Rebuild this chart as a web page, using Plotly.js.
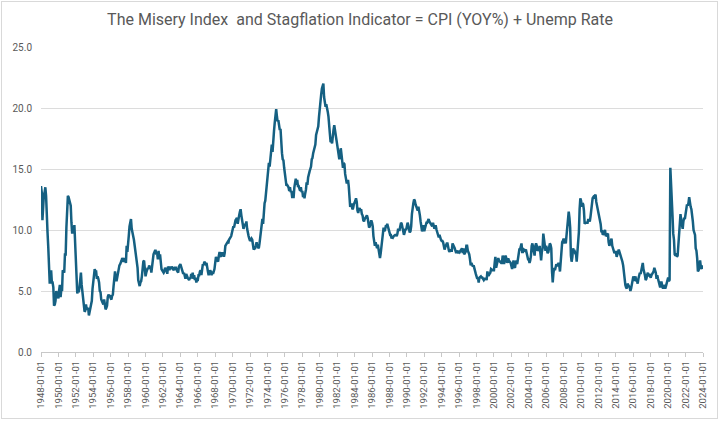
<!DOCTYPE html>
<html>
<head>
<meta charset="utf-8">
<script src="https://cdn.plot.ly/plotly-3.0.1.min.js"></script>
<style>
  html, body { margin: 0; padding: 0; background: #fff; }
  #chart { width: 720px; height: 422px; }
  #frame { position: absolute; left: 1px; top: 1px; width: 715px; height: 416px; border: 1px solid #D9D9D9; pointer-events: none; }
</style>
</head>
<body>
<div id="chart"></div>
<div id="frame"></div>
<script>
// Misery index = CPI YoY % + unemployment rate, monthly, starting 1948-01
const startYear = 1948;
const v1940s = [
  13.6, 13.1, 10.8, 12.2, 12.9, 13.1, 13.5, 12.8, 10.3, 9.8, 8.6, 7.0,
  5.6, 6.0, 6.7, 5.7, 5.7, 5.3, 3.8, 3.9, 4.2, 5.0, 4.7, 4.5
];
const v1950s = [
  4.4, 5.1, 5.5, 4.5, 5.1, 5.0, 6.7, 6.6, 6.5, 8.0, 8.0, 10.2,
  11.8, 12.8, 12.7, 12.5, 12.3, 12.0, 10.6, 9.7, 10.2, 10.0, 10.4, 9.1,
  7.5, 5.4, 4.8, 5.2, 4.9, 5.3, 6.2, 6.5, 5.5, 4.9, 4.1, 3.6,
  3.3, 3.4, 3.9, 3.5, 3.6, 3.6, 3.0, 3.4, 3.6, 4.2, 4.2, 5.2,
  6.0, 6.7, 6.8, 6.6, 6.6, 6.0, 6.2, 6.0, 5.7, 5.0, 4.9, 4.3,
  4.2, 4.0, 3.9, 4.3, 3.6, 3.5, 3.6, 3.8, 4.5, 4.7, 4.6, 4.6,
  4.4, 4.3, 4.6, 4.7, 5.4, 6.1, 6.6, 6.0, 5.8, 6.1, 6.5, 7.1,
  7.1, 7.2, 7.3, 7.5, 7.7, 7.5, 7.4, 7.7, 7.6, 7.3, 8.7, 8.2,
  9.4, 9.6, 10.3, 10.9, 10.9, 10.1, 9.9, 9.5, 9.2, 8.8, 8.3, 8.0,
  7.4, 6.9, 5.9, 5.5, 5.4, 5.7, 5.8, 6.2, 6.9, 7.4, 7.5, 7.0
];
const v1960s = [
  6.2, 6.5, 6.8, 6.9, 6.8, 7.1, 6.9, 7.0, 6.5, 7.5, 7.5, 8.0,
  8.3, 8.3, 8.3, 8.0, 8.1, 7.6, 8.3, 7.6, 8.0, 7.2, 6.8, 6.7,
  6.5, 6.5, 6.6, 6.9, 6.8, 6.8, 6.4, 7.0, 6.9, 6.7, 7.0, 6.8,
  7.0, 6.9, 6.7, 6.7, 6.9, 6.9, 6.9, 6.7, 6.5, 6.5, 7.0, 7.1,
  7.2, 7.0, 6.7, 6.6, 6.4, 6.5, 6.2, 6.0, 6.4, 6.1, 6.1, 6.0,
  5.9, 6.1, 6.0, 6.4, 6.2, 6.5, 6.0, 6.3, 5.9, 6.1, 5.7, 5.9,
  5.9, 6.3, 6.3, 6.6, 6.7, 6.3, 6.6, 7.2, 7.1, 7.4, 7.3, 7.2,
  7.3, 6.6, 6.6, 6.3, 6.6, 6.7, 6.6, 6.3, 6.6, 6.4, 6.6, 6.8,
  7.3, 7.8, 7.6, 7.4, 7.4, 7.9, 8.2, 7.9, 7.8, 8.1, 8.1, 8.1,
  7.8, 8.1, 8.7, 8.9, 8.9, 9.0, 8.9, 9.2, 9.4, 9.4, 9.5, 9.7
];
const v1970s = [
  10.1, 10.3, 10.2, 10.7, 10.8, 10.9, 11.0, 10.5, 11.1, 11.2, 11.5, 11.7,
  11.2, 10.9, 10.7, 10.1, 10.3, 10.5, 10.4, 10.7, 10.1, 9.6, 9.5, 9.3,
  9.1, 9.2, 9.3, 9.2, 8.9, 8.4, 8.5, 8.5, 8.7, 9.0, 8.7, 8.6,
  8.5, 8.9, 9.5, 10.1, 10.4, 10.9, 10.5, 12.2, 12.2, 12.4, 13.1, 13.6,
  14.5, 15.2, 15.5, 15.2, 15.8, 16.3, 17.0, 16.4, 17.8, 18.1, 18.8, 19.5,
  19.9, 19.3, 18.9, 19.0, 18.5, 18.2, 18.3, 17.0, 16.3, 15.8, 15.7, 15.1,
  14.6, 14.0, 13.7, 13.7, 13.6, 13.5, 13.2, 13.5, 13.1, 13.2, 12.7, 12.7,
  12.7, 13.5, 13.8, 14.2, 13.7, 14.1, 13.6, 13.6, 13.4, 13.2, 13.5, 13.1,
  13.2, 12.7, 12.9, 12.6, 13.0, 13.3, 13.9, 13.7, 14.3, 14.7, 14.8, 15.0,
  15.2, 15.8, 15.9, 16.3, 16.5, 16.6, 17.0, 17.8, 18.1, 18.1, 18.5, 19.3
];
const v1980s = [
  20.2, 20.5, 21.1, 21.6, 21.9, 22.0, 20.9, 20.6, 20.1, 20.3, 20.1, 19.7,
  19.3, 18.8, 17.9, 17.2, 17.3, 17.1, 18.0, 18.2, 18.6, 18.0, 17.9, 17.4,
  17.0, 16.5, 15.8, 15.8, 16.1, 16.7, 16.2, 15.7, 15.1, 15.5, 15.4, 14.6,
  14.1, 13.9, 13.9, 14.1, 13.6, 12.7, 11.9, 12.1, 12.1, 11.7, 11.8, 12.1,
  12.2, 12.4, 12.6, 12.3, 11.6, 11.4, 11.7, 11.8, 11.6, 11.7, 11.3, 11.2,
  10.8, 10.7, 10.9, 11.0, 11.0, 11.2, 11.0, 10.4, 10.2, 10.3, 10.5, 10.8,
  10.6, 10.3, 9.5, 8.7, 8.7, 9.0, 8.6, 8.5, 8.8, 8.5, 8.2, 7.7,
  8.1, 8.7, 9.6, 10.1, 10.2, 9.9, 10.0, 10.3, 10.3, 10.5, 10.3, 10.1,
  9.7, 9.6, 9.6, 9.3, 9.5, 9.4, 9.5, 9.6, 9.6, 9.6, 9.5, 9.7,
  10.1, 10.0, 10.0, 10.3, 10.6, 10.5, 10.2, 9.9, 9.6, 9.8, 10.1, 10.0
];
const v1990s = [
  10.6, 10.6, 10.4, 10.1, 9.8, 9.9, 10.3, 11.3, 12.1, 12.2, 12.5, 12.4,
  12.1, 11.9, 11.7, 11.6, 11.9, 11.6, 11.2, 10.7, 10.3, 9.9, 10.0, 10.4,
  9.9, 10.2, 10.6, 10.6, 10.6, 10.9, 10.9, 10.7, 10.6, 10.5, 10.4, 10.3,
  10.6, 10.3, 10.1, 10.3, 10.3, 10.0, 9.7, 9.6, 9.4, 9.6, 9.3, 9.2,
  9.1, 9.1, 9.0, 8.8, 8.4, 8.6, 8.9, 8.9, 8.9, 8.4, 8.3, 8.2,
  8.4, 8.3, 8.3, 8.9, 8.8, 8.6, 8.5, 8.3, 8.1, 8.3, 8.2, 8.1,
  8.3, 8.2, 8.3, 8.5, 8.5, 8.1, 8.5, 8.0, 8.2, 8.2, 8.7, 8.7,
  8.3, 8.2, 8.0, 7.6, 7.1, 7.3, 7.1, 7.0, 7.1, 6.8, 6.4, 6.4,
  6.2, 6.0, 6.1, 5.7, 6.1, 6.2, 6.2, 6.1, 6.1, 6.0, 5.9, 6.0,
  6.0, 6.0, 5.9, 6.6, 6.3, 6.3, 6.4, 6.5, 6.8, 6.7, 6.7, 6.7
];
const v2000s = [
  6.7, 7.3, 7.8, 6.9, 7.2, 7.7, 7.7, 7.5, 7.4, 7.3, 7.3, 7.3,
  7.9, 7.7, 7.2, 7.7, 7.9, 7.7, 7.3, 7.6, 7.6, 7.4, 7.4, 7.3,
  6.8, 6.8, 7.2, 7.5, 7.0, 6.9, 7.3, 7.5, 7.2, 7.7, 8.1, 8.4,
  8.4, 8.9, 8.9, 8.2, 8.2, 8.4, 8.3, 8.3, 8.4, 8.0, 7.6, 7.6,
  7.6, 7.3, 7.5, 7.9, 8.7, 8.9, 8.5, 8.1, 7.9, 8.7, 8.9, 8.7,
  8.3, 8.4, 8.3, 8.7, 7.9, 7.5, 8.2, 8.5, 9.7, 9.3, 8.5, 8.3,
  8.7, 8.4, 8.1, 8.2, 8.8, 8.9, 8.8, 8.5, 6.6, 5.7, 6.5, 6.9,
  6.7, 6.9, 7.2, 7.1, 7.1, 7.3, 7.1, 6.6, 7.5, 8.2, 9.0, 9.1,
  9.3, 8.9, 9.1, 8.9, 9.6, 10.6, 11.4, 11.5, 11.0, 10.2, 7.9, 7.4,
  7.8, 8.5, 8.3, 8.3, 8.1, 8.1, 7.4, 8.1, 8.5, 9.8, 11.7, 12.6
];
const v2010s = [
  12.4, 11.9, 12.2, 12.1, 11.6, 10.5, 10.6, 10.6, 10.6, 10.6, 10.9, 10.8,
  10.7, 11.1, 11.7, 12.3, 12.6, 12.7, 12.6, 12.8, 12.9, 12.3, 12.0, 11.5,
  11.2, 11.2, 10.9, 10.5, 9.9, 9.9, 9.6, 9.8, 9.8, 10.0, 9.5, 9.6,
  9.6, 9.7, 9.0, 8.7, 8.9, 9.3, 9.3, 8.7, 8.4, 8.2, 8.1, 8.2,
  8.2, 7.8, 8.2, 8.2, 8.4, 8.2, 8.2, 7.8, 7.6, 7.4, 7.1, 6.4,
  5.6, 5.5, 5.3, 5.2, 5.6, 5.4, 5.4, 5.3, 5.0, 5.2, 5.6, 5.7,
  6.2, 5.9, 5.9, 6.2, 5.8, 5.9, 5.6, 6.0, 6.5, 6.5, 6.4, 6.8,
  7.2, 7.3, 6.8, 6.6, 6.3, 5.9, 6.0, 6.3, 6.5, 6.2, 6.4, 6.2,
  6.1, 6.3, 6.4, 6.5, 6.6, 6.9, 6.7, 6.5, 6.0, 6.3, 6.0, 5.8,
  5.6, 5.3, 5.7, 5.7, 5.4, 5.2, 5.5, 5.3, 5.2, 5.4, 5.7, 5.9
];
const v2020s = [
  6.1, 5.8, 5.9, 15.1, 13.3, 11.6, 11.2, 9.7, 9.2, 8.0, 7.9, 8.1,
  7.8, 7.9, 8.7, 10.3, 10.8, 11.3, 10.8, 10.4, 10.1, 10.7, 11.0, 10.9,
  11.5, 11.7, 12.1, 12.0, 12.2, 12.7, 12.0, 11.9, 11.7, 11.3, 10.7, 10.0,
  9.8, 9.6, 8.5, 8.3, 7.7, 6.6, 6.7, 7.5, 7.5, 7.0, 6.8, 7.1,
  6.8
];

const values = [].concat(v1940s, v1950s, v1960s, v1970s, v1980s, v1990s, v2000s, v2010s, v2020s);
const dates = values.map((_, i) => {
  const y = startYear + Math.floor(i / 12);
  const m = (i % 12) + 1;
  return y + '-' + String(m).padStart(2, '0') + '-01';
});

const titleText = 'The Misery Index&nbsp; and Stagflation Indicator = CPI (YOY%) + Unemp Rate';
const gray = '#595959';

Plotly.newPlot('chart', [{
  x: dates,
  y: values,
  type: 'scatter',
  mode: 'lines',
  line: { color: '#156082', width: 2.5 },
  hoverinfo: 'x+y'
}], {
  width: 720,
  height: 422,
  margin: { l: 41, r: 17, t: 47, b: 70 },
  paper_bgcolor: '#ffffff',
  plot_bgcolor: '#ffffff',
  showlegend: false,
  font: { family: 'Roboto, "Open Sans", sans-serif', color: gray, size: 10 },
  title: {
    text: titleText,
    font: { family: 'Roboto, "Open Sans", sans-serif', size: 16, color: gray },
    x: 0.5, xanchor: 'center', xref: 'container',
    y: 1 - 19 / 422, yanchor: 'middle', yref: 'container'
  },
  xaxis: {
    type: 'date',
    range: ['1948-01-01', '2024-01-01'],
    tick0: '1948-01-01',
    dtick: 'M24',
    tickformat: '%Y-%m-%d',
    tickangle: -90,
    ticks: 'outside',
    ticklen: 4,
    tickcolor: '#C8C8C8',
    showline: true,
    linecolor: '#C8C8C8',
    linewidth: 1,
    showgrid: false,
    zeroline: false,
    tickfont: { size: 9.5, color: gray }
  },
  yaxis: {
    range: [0, 25],
    dtick: 5,
    tick0: 0,
    tickformat: '.1f',
    showgrid: true,
    gridcolor: '#DCDCDC',
    gridwidth: 1,
    zeroline: false,
    showline: false,
    ticks: '',
    ticklabelstandoff: 8,
    tickfont: { size: 10, color: gray }
  }
}, { displayModeBar: false, staticPlot: true });
</script>
</body>
</html>
